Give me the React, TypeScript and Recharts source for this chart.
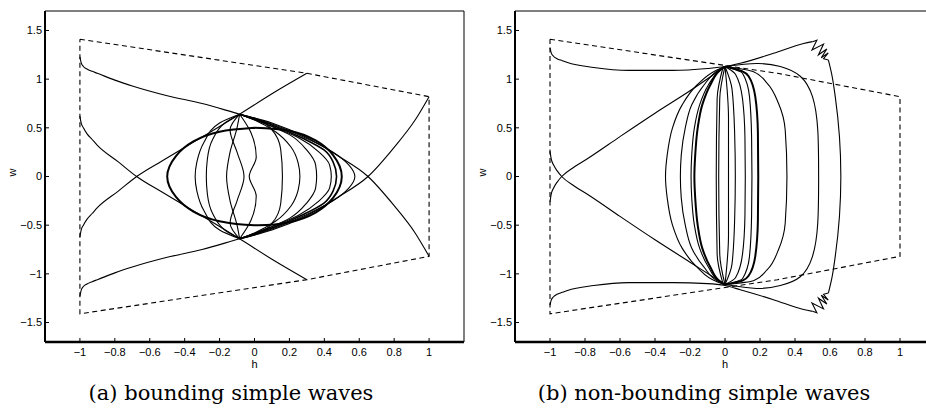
import React from "react";
import { LineChart, Line, XAxis, YAxis } from "recharts";

type P = [number, number];

const xTicks = [-1, -0.8, -0.6, -0.4, -0.2, 0, 0.2, 0.4, 0.6, 0.8, 1];
const yTicks = [-1.5, -1, -0.5, 0, 0.5, 1, 1.5];

// dashed admissible region (same in both panels)
const boundary: P[] = [[-1, 1.41], [0.3, 1.06], [1, 0.82], [1, -0.82], [0.3, -1.06], [-1, -1.41], [-1, 1.41]];

// ---- panel (a): bounding simple waves ----
const aUpper: P[] = [[-1, 1.23], [-0.993, 1.17], [-0.98, 1.13], [-0.96, 1.105], [-0.93, 1.08], [-0.9, 1.06], [-0.8, 0.99], [-0.7, 0.93], [-0.5, 0.83], [-0.3, 0.75], [-0.085, 0.64], [0.1, 0.55], [0.3, 0.4], [0.48, 0.21], [0.65, 0], [0.8, -0.3], [0.92, -0.58], [1, -0.82]];
const aLower: P[] = [[-1, -1.23], [-0.993, -1.17], [-0.98, -1.13], [-0.96, -1.105], [-0.93, -1.08], [-0.9, -1.06], [-0.8, -0.99], [-0.7, -0.93], [-0.5, -0.83], [-0.3, -0.75], [-0.085, -0.64], [0.1, -0.55], [0.3, -0.4], [0.48, -0.21], [0.65, 0], [0.8, 0.3], [0.92, 0.58], [1, 0.82]];
const bDown: P[] = [[-1, 0.62], [-0.993, 0.55], [-0.98, 0.5], [-0.96, 0.44], [-0.93, 0.38], [-0.9, 0.32], [-0.78, 0.15], [-0.675, 0], [-0.53, -0.16], [-0.39, -0.31], [-0.24, -0.47], [-0.085, -0.64], [0.1, -0.85], [0.3, -1.06]];
const bUp: P[] = [[-1, -0.62], [-0.993, -0.55], [-0.98, -0.5], [-0.96, -0.44], [-0.93, -0.38], [-0.9, -0.32], [-0.78, -0.15], [-0.675, 0], [-0.53, 0.16], [-0.39, 0.31], [-0.24, 0.47], [-0.085, 0.64], [0.1, 0.85], [0.3, 1.06]];
const aRing: P[] = [[0, 0.5], [0.2, 0.47], [0.35, 0.37], [0.45, 0.22], [0.5, 0], [0.45, -0.22], [0.35, -0.37], [0.2, -0.47], [0, -0.5], [-0.2, -0.46], [-0.35, -0.36], [-0.45, -0.21], [-0.5, 0], [-0.45, 0.21], [-0.35, 0.36], [-0.2, 0.46], [0, 0.5]];
const aR1: P[] = [[-0.085, 0.64], [0.1, 0.54], [0.3, 0.39], [0.45, 0.25], [0.54, 0.12], [0.575, 0], [0.54, -0.12], [0.45, -0.25], [0.3, -0.39], [0.1, -0.54], [-0.085, -0.64]];
const aR2: P[] = [[-0.085, 0.64], [0.1, 0.53], [0.28, 0.39], [0.4, 0.27], [0.45, 0.15], [0.47, 0], [0.45, -0.15], [0.4, -0.27], [0.28, -0.39], [0.1, -0.53], [-0.085, -0.64]];
const aR3: P[] = [[-0.085, 0.64], [0.08, 0.53], [0.25, 0.4], [0.37, 0.25], [0.43, 0.12], [0.44, 0], [0.43, -0.12], [0.37, -0.25], [0.25, -0.4], [0.08, -0.53], [-0.085, -0.64]];
const aR4: P[] = [[-0.085, 0.64], [0.05, 0.55], [0.2, 0.43], [0.3, 0.27], [0.35, 0.12], [0.356, 0], [0.35, -0.12], [0.3, -0.27], [0.2, -0.43], [0.05, -0.55], [-0.085, -0.64]];
const aR5: P[] = [[-0.085, 0.64], [0, 0.58], [0.12, 0.46], [0.21, 0.3], [0.25, 0.14], [0.26, 0], [0.25, -0.14], [0.21, -0.3], [0.12, -0.46], [0, -0.58], [-0.085, -0.64]];
const aR6: P[] = [[-0.085, 0.64], [0, 0.6], [0.1, 0.48], [0.15, 0.28], [0.16, 0], [0.15, -0.28], [0.1, -0.48], [0, -0.6], [-0.085, -0.64]];
const aL1: P[] = [[-0.085, 0.64], [-0.2, 0.55], [-0.29, 0.35], [-0.33, 0.15], [-0.34, 0], [-0.33, -0.15], [-0.29, -0.35], [-0.2, -0.55], [-0.085, -0.64]];
const aL2: P[] = [[-0.085, 0.64], [-0.17, 0.55], [-0.24, 0.38], [-0.27, 0.18], [-0.276, 0], [-0.27, -0.18], [-0.24, -0.38], [-0.17, -0.55], [-0.085, -0.64]];
const aL3: P[] = [[-0.085, 0.64], [-0.1, 0.5], [-0.14, 0.25], [-0.16, 0], [-0.14, -0.25], [-0.1, -0.5], [-0.085, -0.64]];
const aL4: P[] = [[-0.085, 0.64], [-0.14, 0.48], [-0.1, 0.25], [-0.06, 0], [-0.1, -0.25], [-0.14, -0.48], [-0.085, -0.64]];
const aW: P[] = [[-0.085, 0.64], [-0.02, 0.45], [0.01, 0.2], [-0.03, 0], [0.01, -0.2], [-0.02, -0.45], [-0.085, -0.64]];

// ---- panel (b): non-bounding simple waves ----
const topArc: P[] = [[-1, 1.32], [-0.993, 1.27], [-0.98, 1.235], [-0.96, 1.21], [-0.93, 1.19], [-0.9, 1.17], [-0.75, 1.12], [-0.55, 1.09], [-0.3, 1.09], [-0.1, 1.11], [0, 1.13], [0.087, 1.163], [0.277, 1.265], [0.449, 1.367], [0.5, 1.385]];
const topJag: P[] = [[0.5, 1.385], [0.525, 1.4], [0.497, 1.3], [0.563, 1.36], [0.534, 1.25], [0.582, 1.31], [0.55, 1.22], [0.59, 1.27], [0.563, 1.21], [0.591, 1.196]];
const rightEdge: P[] = [[0.591, 1.196], [0.61, 1.05], [0.63, 0.82], [0.654, 0.41], [0.662, 0], [0.654, -0.41], [0.63, -0.82], [0.61, -1.05], [0.591, -1.196]];
const botJag: P[] = [[0.591, -1.196], [0.563, -1.21], [0.59, -1.27], [0.55, -1.22], [0.582, -1.31], [0.534, -1.25], [0.563, -1.36], [0.497, -1.3], [0.525, -1.4], [0.5, -1.385]];
const botArc: P[] = [[-1, -1.32], [-0.993, -1.27], [-0.98, -1.235], [-0.96, -1.21], [-0.93, -1.19], [-0.9, -1.17], [-0.75, -1.12], [-0.55, -1.09], [-0.3, -1.09], [-0.1, -1.1], [0, -1.12], [0.087, -1.163], [0.277, -1.265], [0.449, -1.367], [0.5, -1.385]];
const cDown: P[] = [[-1, 0.26], [-0.993, 0.18], [-0.98, 0.12], [-0.96, 0.06], [-0.933, 0], [-0.86, -0.1], [-0.78, -0.19], [-0.6, -0.41], [-0.4, -0.65], [-0.2, -0.88], [0, -1.11]];
const cUp: P[] = [[-1, -0.26], [-0.993, -0.18], [-0.98, -0.12], [-0.96, -0.06], [-0.933, 0], [-0.86, 0.1], [-0.78, 0.19], [-0.6, 0.41], [-0.4, 0.65], [-0.2, 0.88], [0, 1.13]];
const bP1: P[] = [[0, 1.13], [0.18, 1.16], [0.316, 1.13], [0.43, 1.03], [0.5, 0.82], [0.53, 0.48], [0.535, 0], [0.53, -0.48], [0.5, -0.82], [0.43, -1.03], [0.316, -1.12], [0.18, -1.15], [0, -1.11]];
const bP2: P[] = [[0, 1.13], [0.163, 1.077], [0.24, 0.96], [0.306, 0.75], [0.344, 0.48], [0.354, 0], [0.344, -0.48], [0.306, -0.75], [0.24, -0.96], [0.163, -1.07], [0, -1.11]];
const bP3: P[] = [[0, 1.13], [0.1, 1.08], [0.135, 1.03], [0.173, 0.82], [0.188, 0.45], [0.19, 0], [0.188, -0.45], [0.173, -0.82], [0.135, -1.02], [0.1, -1.07], [0, -1.11]];
const bP4: P[] = [[0, 1.13], [0.1, 1.06], [0.14, 0.82], [0.152, 0.4], [0.154, 0], [0.152, -0.4], [0.14, -0.82], [0.1, -1.05], [0, -1.11]];
const bP5: P[] = [[0, 1.13], [0.06, 1.05], [0.1, 0.8], [0.114, 0.4], [0.116, 0], [0.114, -0.4], [0.1, -0.8], [0.06, -1.04], [0, -1.11]];
const bP6: P[] = [[0, 1.13], [0.04, 0.9], [0.055, 0.45], [0.059, 0], [0.055, -0.45], [0.04, -0.9], [0, -1.11]];
const bP7: P[] = [[0, 1.13], [0.02, 0.6], [0.02, 0], [0.02, -0.6], [0, -1.11]];
const bQ1: P[] = [[0, 1.13], [-0.046, 1.094], [-0.16, 0.94], [-0.245, 0.736], [-0.3, 0.5], [-0.33, 0.225], [-0.34, 0], [-0.33, -0.225], [-0.3, -0.5], [-0.245, -0.736], [-0.16, -0.93], [-0.046, -1.08], [0, -1.11]];
const bQ2: P[] = [[0, 1.13], [-0.036, 1.094], [-0.12, 0.94], [-0.19, 0.736], [-0.227, 0.5], [-0.25, 0.22], [-0.255, 0], [-0.25, -0.22], [-0.227, -0.5], [-0.19, -0.736], [-0.12, -0.93], [-0.036, -1.08], [0, -1.11]];
const bQ3: P[] = [[0, 1.13], [-0.027, 1.094], [-0.084, 0.94], [-0.13, 0.736], [-0.156, 0.5], [-0.17, 0.225], [-0.175, 0], [-0.17, -0.225], [-0.156, -0.5], [-0.13, -0.736], [-0.084, -0.93], [-0.027, -1.08], [0, -1.11]];
const bQ4: P[] = [[0, 1.13], [-0.03, 1.09], [-0.095, 0.94], [-0.145, 0.736], [-0.175, 0.5], [-0.19, 0.225], [-0.194, 0], [-0.19, -0.225], [-0.175, -0.5], [-0.145, -0.736], [-0.095, -0.93], [-0.03, -1.08], [0, -1.11]];
const bQ5: P[] = [[-0.01, 1.13], [-0.045, 0.8], [-0.05, 0], [-0.045, -0.8], [-0.01, -1.11]];
const bQ6: P[] = [[0, 1.13], [-0.03, 0.8], [-0.036, 0], [-0.03, -0.8], [0, -1.11]];

type Curve = "natural" | "linear" | "monotoneX" | "monotoneY";
type Series = { pts: P[]; w?: number; dash?: boolean; type?: Curve };

const panelA: Series[] = [
  { pts: boundary, dash: true, type: "linear" },
  { pts: aUpper, type: "monotoneX" }, { pts: aLower, type: "monotoneX" },
  { pts: bDown, type: "monotoneX" }, { pts: bUp, type: "monotoneX" },
  { pts: aRing, w: 2, type: "natural" },
  { pts: aR1 }, { pts: aR2, w: 1.6 }, { pts: aR3 }, { pts: aR4 }, { pts: aR5 }, { pts: aR6 },
  { pts: aL1 }, { pts: aL2 }, { pts: aL3 }, { pts: aL4 }, { pts: aW },
];

const panelB: Series[] = [
  { pts: boundary, dash: true, type: "linear" },
  { pts: topArc, type: "monotoneX" }, { pts: topJag, type: "linear" },
  { pts: rightEdge }, { pts: botJag, type: "linear" },
  { pts: botArc, type: "monotoneX" },
  { pts: cDown, type: "monotoneX" }, { pts: cUp, type: "monotoneX" },
  { pts: bP1, type: "natural" }, { pts: bP2 }, { pts: bP3, w: 2 }, { pts: bP4 }, { pts: bP5 }, { pts: bP6 }, { pts: bP7 },
  { pts: bQ1 }, { pts: bQ2 }, { pts: bQ3, w: 2 }, { pts: bQ4 }, { pts: bQ5 }, { pts: bQ6 },
];

const fmt = (v: number) => (v < 0 ? "\u2212" + Math.abs(v) : String(v));
const sans = "Liberation Sans, Arial, sans-serif";
const tickFont = { fontSize: 11, fill: "#000", fontFamily: sans };

function Panel({ series, left, rightMargin }: { series: Series[]; left: number; rightMargin: number }) {
  return (
    <div style={{ position: "absolute", left, top: 0 }}>
      <LineChart width={470} height={408} margin={{ top: 10, right: rightMargin, bottom: 0, left: 0 }}>
        <XAxis
          xAxisId="b"
          type="number"
          dataKey="x"
          domain={[-1.2, 1.2]}
          allowDataOverflow
          ticks={xTicks}
          interval={0}
          tickFormatter={fmt}
          tick={tickFont}
          tickSize={-4}
          tickMargin={10}
          height={66}
          axisLine={{ stroke: "#000", strokeWidth: 2.5 }}
          tickLine={{ stroke: "#000" }}
          label={{ value: "h", position: "insideTop", offset: 18, fill: "#000", fontSize: 11, fontFamily: sans }}
        />
        <XAxis
          xAxisId="t"
          orientation="top"
          type="number"
          dataKey="x"
          domain={[-1.2, 1.2]}
          allowDataOverflow
          ticks={xTicks}
          interval={0}
          tick={false}
          tickSize={-4}
          height={1}
          axisLine={{ stroke: "#000", strokeWidth: 1 }}
          tickLine={{ stroke: "#000" }}
        />
        <YAxis
          yAxisId="l"
          type="number"
          dataKey="y"
          domain={[-1.7, 1.7]}
          allowDataOverflow
          ticks={yTicks}
          interval={0}
          tickFormatter={fmt}
          tick={tickFont}
          tickSize={-4}
          tickMargin={7}
          width={45}
          axisLine={{ stroke: "#000", strokeWidth: 2 }}
          tickLine={{ stroke: "#000" }}
          label={{ value: "w", angle: -90, position: "insideLeft", offset: 12, fill: "#000", fontSize: 11, fontFamily: sans }}
        />
        <YAxis
          yAxisId="r"
          orientation="right"
          type="number"
          dataKey="y"
          domain={[-1.7, 1.7]}
          allowDataOverflow
          ticks={yTicks}
          interval={0}
          tick={false}
          tickSize={-4}
          width={1}
          axisLine={{ stroke: "#000", strokeWidth: 1 }}
          tickLine={{ stroke: "#000" }}
        />
        {series.map((s, i) => (
          <Line
            key={i}
            xAxisId="b"
            yAxisId="l"
            data={s.pts.map(([x, y]) => ({ x, y }))}
            dataKey="y"
            type={s.type ?? "monotoneY"}
            stroke="#000"
            strokeWidth={s.w ?? 1.1}
            strokeDasharray={s.dash ? "5 3.5" : undefined}
            dot={false}
            activeDot={false}
            isAnimationActive={false}
          />
        ))}
      </LineChart>
    </div>
  );
}

const captionStyle: React.CSSProperties = {
  position: "absolute",
  top: 381,
  fontFamily: "DejaVu Serif, serif",
  fontSize: 21,
  lineHeight: "24px",
  textAlign: "center",
  color: "#000",
};

export default function App() {
  return (
    <div style={{ position: "absolute", left: 0, top: 0, width: 926, height: 408, overflow: "hidden", background: "#fff" }}>
      <Panel series={panelA} left={0} rightMargin={5} />
      <Panel series={panelB} left={470} rightMargin={4} />
      <div style={{ ...captionStyle, left: 0, width: 462 }}>(a) bounding simple waves</div>
      <div style={{ ...captionStyle, left: 470, width: 468 }}>(b) non-bounding simple waves</div>
    </div>
  );
}
